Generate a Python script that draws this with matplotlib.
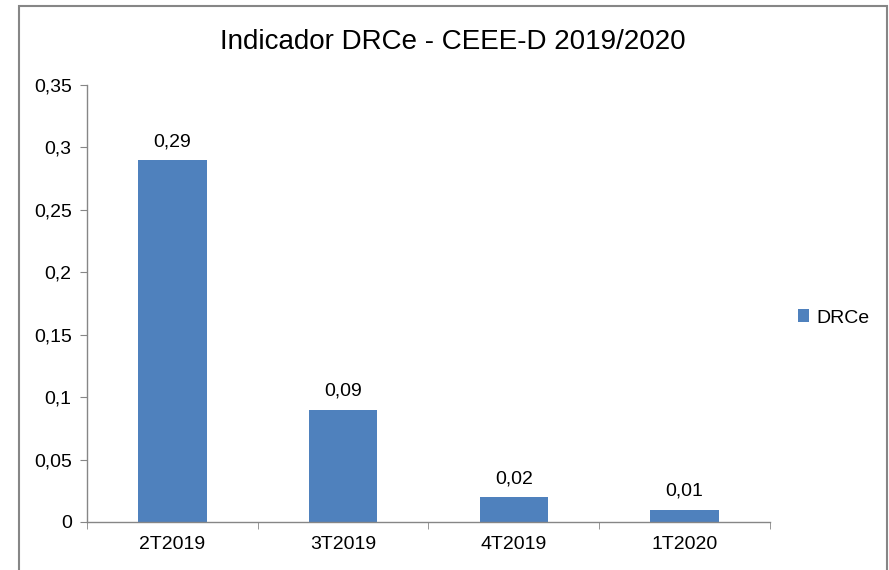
import matplotlib
matplotlib.use('Agg')
import matplotlib.pyplot as plt
from matplotlib.patches import Rectangle
from matplotlib.ticker import FuncFormatter

CATEGORIES = ['2T2019', '3T2019', '4T2019', '1T2020']
DRCE = [0.29, 0.09, 0.02, 0.01]
SERIES_LABEL = 'DRCe'
TITLE = 'Indicador DRCe - CEEE-D 2019/2020'

BAR_COLOR = '#4F81BD'
GRAY = '#868686'

plt.rcParams['font.family'] = ['Liberation Sans', 'DejaVu Sans']

fig = plt.figure(figsize=(8.89, 5.7), dpi=100)
ax = fig.add_axes([87 / 889, 1 - 522 / 570, (770 - 87) / 889, (522 - 85) / 570])

x = list(range(len(CATEGORIES)))
bars = ax.bar(x, DRCE, width=0.40, color=BAR_COLOR, label=SERIES_LABEL)

# data labels above bars, decimal comma
for b, v in zip(bars, DRCE):
    ax.annotate(('%.2f' % v).replace('.', ','),
                (b.get_x() + b.get_width() / 2, b.get_height()),
                xytext=(0, 7), textcoords='offset points',
                ha='center', va='bottom', fontsize=14)

ax.set_xlim(-0.5, len(CATEGORIES) - 0.5)
ax.set_ylim(0, 0.35)
ax.set_yticks([0, 0.05, 0.1, 0.15, 0.2, 0.25, 0.3, 0.35])
ax.yaxis.set_major_formatter(FuncFormatter(
    lambda v, p: ('%.2f' % v).rstrip('0').rstrip('.').replace('.', ',') if v else '0'))
ax.set_xticks(x)
ax.set_xticklabels(CATEGORIES)
ax.set_xticks([i - 0.5 for i in range(len(CATEGORIES) + 1)], minor=True)

for s in ['top', 'right']:
    ax.spines[s].set_visible(False)
for s in ['left', 'bottom']:
    ax.spines[s].set_color(GRAY)
    ax.spines[s].set_linewidth(1)

ax.tick_params(axis='y', colors=GRAY, labelcolor='black', labelsize=14, length=5, pad=6)
ax.tick_params(axis='x', which='major', length=0, labelsize=14, pad=10)
ax.tick_params(axis='x', which='minor', colors=GRAY, length=5, direction='out')

fig.text(453 / 889, 1 - 42 / 570, TITLE, ha='center', va='center', fontsize=20)

leg = fig.legend(loc='center left', bbox_to_anchor=(790 / 889, 1 - 318 / 570),
                 frameon=False, fontsize=14, handlelength=0.6, handleheight=0.6,
                 handletextpad=0.35, borderaxespad=0)

# outer chart frame (bottom edge is cut off in the original)
fig.patches.append(Rectangle((19 / 889, -0.05), (887 - 19) / 889, 1.05 - 6 / 570,
                             transform=fig.transFigure, fill=False,
                             edgecolor=GRAY, linewidth=1.5))

fig.savefig('out.png', dpi=100)
